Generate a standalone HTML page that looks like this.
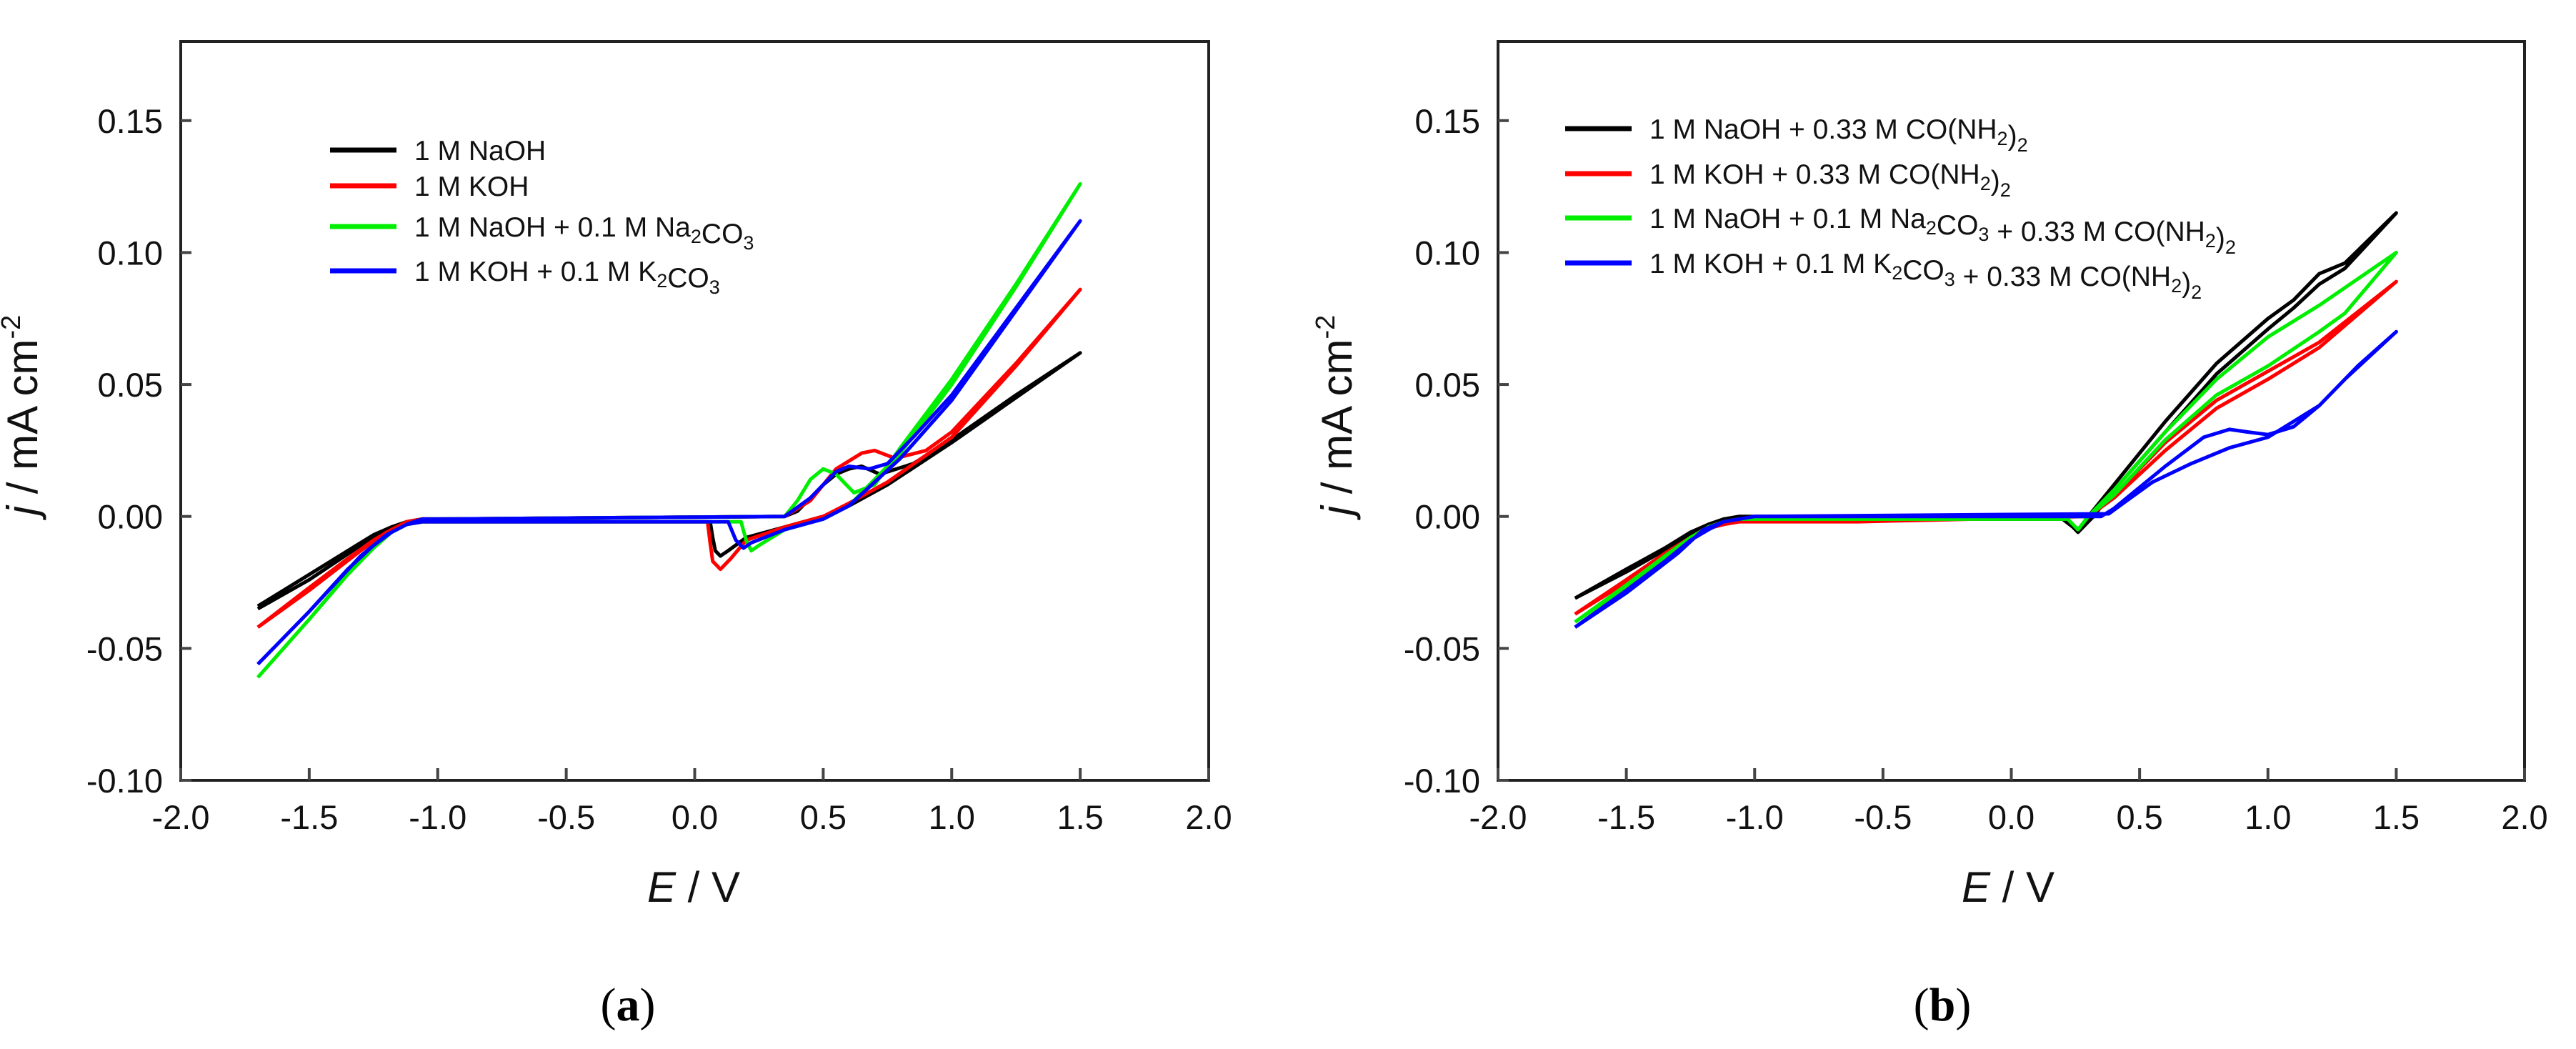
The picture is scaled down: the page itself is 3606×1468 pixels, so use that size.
<!DOCTYPE html>
<html><head><meta charset="utf-8"><style>
body{margin:0;background:#fff;}
svg{display:block;font-family:"Liberation Sans",sans-serif;}
</style></head><body>
<svg id="fig" width="3606" height="1468" viewBox="0 0 3606 1468">
<rect width="3606" height="1468" fill="#fff"/>
</svg>
<script>
const xTicks = [-2.0,-1.5,-1.0,-0.5,0.0,0.5,1.0,1.5,2.0];
const yTicks = [-0.10,-0.05,0.00,0.05,0.10,0.15];
const xTickLabels = ["-2.0","-1.5","-1.0","-0.5","0.0","0.5","1.0","1.5","2.0"];
const yTickLabels = ["-0.10","-0.05","0.00","0.05","0.10","0.15"];

// Panel (a)
const aNaohE = [-1.7,-1.5,-1.35,-1.25,-1.18,-1.12,-1.06,-1.0,0.35,0.4,0.45,0.5,0.55,0.6,0.65,0.72,0.85,1.0,1.25,1.5,1.25,1.0,0.75,0.6,0.5,0.35,0.2,0.13,0.1,0.08,0.07,0.06,-1.0,-1.06,-1.12,-1.2,-1.3,-1.5,-1.7];
const aNaohJ = [-0.034,-0.022,-0.013,-0.007,-0.004,-0.002,-0.001,-0.001,0,0.002,0.007,0.012,0.016,0.018,0.019,0.016,0.02,0.029,0.046,0.062,0.045,0.028,0.012,0.004,0.0,-0.004,-0.008,-0.013,-0.015,-0.013,-0.008,-0.002,-0.002,-0.002,-0.003,-0.005,-0.011,-0.024,-0.035];
const aKohE = [-1.7,-1.5,-1.35,-1.25,-1.18,-1.12,-1.06,-1.0,0.35,0.45,0.55,0.65,0.7,0.78,0.9,1.0,1.25,1.5,1.25,1.0,0.75,0.6,0.5,0.35,0.2,0.14,0.1,0.07,0.06,0.05,-1.0,-1.06,-1.12,-1.2,-1.3,-1.5,-1.7];
const aKohJ = [-0.042,-0.027,-0.016,-0.009,-0.005,-0.002,-0.001,-0.001,0,0.006,0.018,0.024,0.025,0.022,0.025,0.032,0.058,0.086,0.057,0.03,0.013,0.005,0.0,-0.004,-0.009,-0.016,-0.020,-0.017,-0.01,-0.002,-0.002,-0.002,-0.003,-0.006,-0.013,-0.028,-0.042];
const aNaCO3E = [-1.7,-1.5,-1.35,-1.25,-1.18,-1.12,-1.06,-1.0,0.35,0.4,0.45,0.5,0.55,0.62,0.7,0.8,1.0,1.25,1.5,1.25,1.0,0.8,0.6,0.5,0.35,0.25,0.22,0.2,0.18,-1.0,-1.06,-1.12,-1.2,-1.3,-1.5,-1.7];
const aNaCO3J = [-0.061,-0.039,-0.022,-0.012,-0.006,-0.003,-0.001,-0.001,0,0.006,0.014,0.018,0.016,0.009,0.012,0.026,0.052,0.088,0.126,0.087,0.05,0.024,0.004,-0.001,-0.005,-0.011,-0.013,-0.009,-0.002,-0.002,-0.002,-0.003,-0.007,-0.016,-0.039,-0.061];
const aKCO3E = [-1.7,-1.5,-1.35,-1.25,-1.18,-1.12,-1.06,-1.0,0.35,0.45,0.55,0.6,0.68,0.75,0.85,1.0,1.25,1.5,1.25,1.0,0.8,0.6,0.5,0.35,0.22,0.19,0.16,0.13,-1.0,-1.06,-1.12,-1.2,-1.3,-1.5,-1.7];
const aKCO3J = [-0.056,-0.036,-0.02,-0.011,-0.006,-0.003,-0.001,-0.001,0,0.007,0.017,0.019,0.018,0.02,0.03,0.046,0.079,0.112,0.078,0.044,0.022,0.004,-0.001,-0.005,-0.010,-0.012,-0.009,-0.002,-0.002,-0.002,-0.003,-0.007,-0.015,-0.036,-0.056];

// Panel (b)
const bNaohE = [-1.7,-1.5,-1.35,-1.25,-1.18,-1.12,-1.06,-1.0,0.3,0.4,0.6,0.8,1.0,1.1,1.2,1.3,1.5,1.3,1.2,1.1,1.0,0.8,0.6,0.4,0.32,0.26,0.24,0.2,-1.0,-1.06,-1.12,-1.2,-1.3,-1.5,-1.7];
const bNaohJ = [-0.031,-0.020,-0.012,-0.006,-0.003,-0.001,0,0,0,0.012,0.036,0.058,0.075,0.082,0.092,0.096,0.115,0.094,0.088,0.079,0.071,0.054,0.032,0.01,0.0,-0.006,-0.004,-0.001,-0.001,-0.001,-0.002,-0.004,-0.010,-0.021,-0.031];
const bKohE = [-1.7,-1.5,-1.35,-1.25,-1.18,-1.12,-1.06,-1.0,0.3,0.4,0.6,0.8,1.0,1.2,1.5,1.2,1.0,0.8,0.6,0.4,0.3,-0.6,-1.0,-1.06,-1.12,-1.2,-1.3,-1.5,-1.7];
const bKohJ = [-0.037,-0.024,-0.014,-0.008,-0.004,-0.002,-0.001,-0.001,0,0.008,0.028,0.044,0.055,0.066,0.089,0.064,0.052,0.041,0.025,0.007,0,-0.002,-0.002,-0.002,-0.003,-0.005,-0.012,-0.025,-0.037];
const bNaCO3E = [-1.7,-1.5,-1.35,-1.25,-1.18,-1.12,-1.06,-1.0,0.3,0.4,0.6,0.8,1.0,1.2,1.5,1.3,1.2,1.0,0.8,0.6,0.4,0.3,0.26,0.22,-1.0,-1.06,-1.12,-1.2,-1.3,-1.5,-1.7];
const bNaCO3J = [-0.040,-0.026,-0.015,-0.008,-0.004,-0.002,-0.001,-0.001,0,0.01,0.032,0.052,0.068,0.08,0.1,0.077,0.07,0.057,0.046,0.029,0.008,0,-0.005,-0.001,-0.001,-0.001,-0.002,-0.005,-0.013,-0.027,-0.040];
const bKCO3E = [-1.7,-1.5,-1.35,-1.25,-1.18,-1.12,-1.06,-1.0,0.35,0.4,0.5,0.6,0.75,0.85,0.92,1.0,1.1,1.2,1.35,1.5,1.3,1.2,1.0,0.85,0.7,0.55,0.45,0.38,-1.0,-1.06,-1.12,-1.2,-1.3,-1.5,-1.7];
const bKCO3J = [-0.042,-0.028,-0.017,-0.009,-0.005,-0.002,-0.001,0,0,0.003,0.011,0.019,0.03,0.033,0.032,0.031,0.034,0.042,0.057,0.070,0.052,0.042,0.03,0.026,0.02,0.013,0.006,0.001,0.000,-0.001,-0.002,-0.005,-0.014,-0.029,-0.042];

const svg = document.getElementById('fig');
const NS = 'http://www.w3.org/2000/svg';
function mk(tag, attrs, parent){
  const e = document.createElementNS(NS, tag);
  for (const k in attrs) e.setAttribute(k, attrs[k]);
  (parent||svg).appendChild(e);
  return e;
}
const Y_TOP = 58, Y_BOT = 1092, YMIN = -0.10, YMAX = 0.18;
function yScale(v){ return Y_BOT - (v - YMIN) / (YMAX - YMIN) * (Y_BOT - Y_TOP); }

function panel(id, left, right, series, legend, legendRows, legendX, titleX, yTitleX, labelX, labelText){
  const xScale = v => left + (v + 2) / 4 * (right - left);
  const g = mk('g', {});
  
  
  series.forEach(s => {
    let d = '';
    s.E.forEach((e, i) => { d += (i ? 'L' : 'M') + xScale(e).toFixed(1) + ',' + yScale(s.J[i]).toFixed(1); });
    const p = mk('path', {d: d, fill: 'none', stroke: s.c, 'stroke-width': 5, 'stroke-linejoin': 'round'}, g);
    
    
  });
  const fr = mk('rect', {x: left, y: Y_TOP, width: right - left, height: Y_BOT - Y_TOP, fill: 'none', stroke: '#222', 'stroke-width': 4}, g);
  
  
  xTicks.forEach((t, i) => {
    const x = xScale(t);
    mk('line', {x1: x, x2: x, y1: Y_BOT, y2: Y_BOT - 17, stroke: '#444', 'stroke-width': 4}, g);
    const tx = mk('text', {x: x, y: 1160, 'font-size': 47, 'text-anchor': 'middle', fill: '#111'}, g);
    tx.textContent = xTickLabels[i];
    
    
  });
  yTicks.forEach((t, i) => {
    const y = yScale(t);
    mk('line', {x1: left, x2: left + 15, y1: y, y2: y, stroke: '#444', 'stroke-width': 4}, g);
    const tx = mk('text', {x: left - 25, y: y + 17, 'font-size': 47, 'text-anchor': 'end', fill: '#111'}, g);
    tx.textContent = yTickLabels[i];
    
    
  });
  const xt = mk('text', {x: titleX, y: 1262, 'font-size': 60, 'text-anchor': 'middle', fill: '#111'}, g);
  xt.innerHTML = '<tspan font-style="italic">E</tspan> / V';
  
  
  const yt = mk('text', {x: 0, y: 0, 'font-size': 60, 'text-anchor': 'middle', fill: '#111', transform: 'translate(' + yTitleX + ',581) rotate(-90)'}, g);
  yt.innerHTML = '<tspan font-style="italic">j</tspan> / mA cm<tspan font-size="38" dy="-24">-2</tspan>';
  
  
  legend.forEach((l, i) => {
    const y = legendRows[i];
    const ln = mk('line', {x1: legendX, x2: legendX + 93, y1: y, y2: y, stroke: l.c, 'stroke-width': 7}, g);
    
    
    const tx = mk('text', {x: legendX + 118, y: y + 14, 'font-size': 39, fill: '#111'}, g);
    tx.innerHTML = l.t;
    
    
  });
  const pl = mk('text', {x: labelX, y: 1428, 'font-size': 66, 'text-anchor': 'middle', fill: '#000', 'font-family': 'Liberation Serif, serif'}, g);
  pl.innerHTML = '(<tspan font-weight="bold">' + labelText + '</tspan>)';
  
  
}
const sub = s => '<tspan font-size="27" dy="9">' + s + '</tspan><tspan dy="-9"></tspan>';
panel('a', 253, 1692,
  [{n:'naoh',E:aNaohE,J:aNaohJ,c:'#000'},{n:'koh',E:aKohE,J:aKohJ,c:'#ff0000'},{n:'naoh-na2co3',E:aNaCO3E,J:aNaCO3J,c:'#00ee00'},{n:'koh-k2co3',E:aKCO3E,J:aKCO3J,c:'#0000ff'}],
  [{c:'#000',t:'1 M NaOH'},{c:'#ff0000',t:'1 M KOH'},{c:'#00ee00',t:'1 M NaOH + 0.1 M Na'+sub('2')+'CO'+sub('3')},{c:'#0000ff',t:'1 M KOH + 0.1 M K'+sub('2')+'CO'+sub('3')}],
  [210,260,317,379], 462, 971, 52, 879, 'a');
panel('b', 2097, 3534,
  [{n:'naoh-urea',E:bNaohE,J:bNaohJ,c:'#000'},{n:'koh-urea',E:bKohE,J:bKohJ,c:'#ff0000'},{n:'naoh-na2co3-urea',E:bNaCO3E,J:bNaCO3J,c:'#00ee00'},{n:'koh-k2co3-urea',E:bKCO3E,J:bKCO3J,c:'#0000ff'}],
  [{c:'#000',t:'1 M NaOH + 0.33 M CO(NH'+sub('2')+')'+sub('2')},{c:'#ff0000',t:'1 M KOH + 0.33 M CO(NH'+sub('2')+')'+sub('2')},{c:'#00ee00',t:'1 M NaOH + 0.1 M Na'+sub('2')+'CO'+sub('3')+' + 0.33 M CO(NH'+sub('2')+')'+sub('2')},{c:'#0000ff',t:'1 M KOH + 0.1 M K'+sub('2')+'CO'+sub('3')+' + 0.33 M CO(NH'+sub('2')+')'+sub('2')}],
  [180,243,305,368], 2191, 2811, 1892, 2719, 'b');
</script>
</body></html>
